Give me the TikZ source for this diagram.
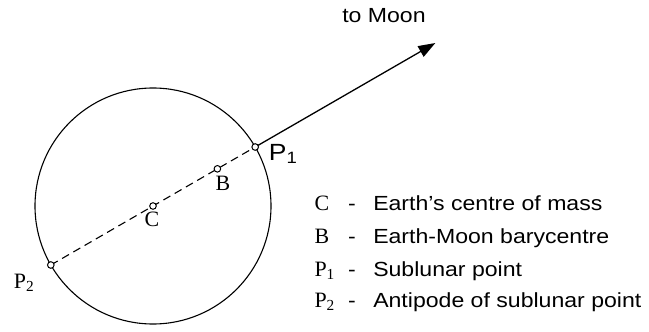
\documentclass[tikz,border=0pt]{standalone}
\usepackage{fontspec}
\setmainfont{Liberation Serif}
\newfontfamily\labelsans[FakeStretch=1.13]{Liberation Sans}
\usetikzlibrary{calc, arrows.meta}

\begin{document}
\begin{tikzpicture}[x=1bp, y=1bp, line width=1.1bp,
  dot/.style={draw, fill=white, line width=1bp},
  sans/.style={font=\labelsans\fontsize{20.5}{24}\selectfont, inner sep=0pt},
  bigsans/.style={font=\labelsans\fontsize{23.5}{28}\selectfont, inner sep=0pt},
  serif/.style={font=\fontsize{22}{26}\selectfont, inner sep=0pt}]
  \useasboundingbox (0,0) rectangle (649,331);
  \coordinate (C) at (153,125);
  % P1 and P2 lie on the Earth's outline, B between C and P1
  \coordinate (P1) at ($(C)+(30:118)$);
  \coordinate (P2) at ($(C)+(210:118)$);
  \coordinate (B) at ($(C)!0.63!(P1)$);
  \coordinate (M) at ($(C)+(30:326)$);

  \draw (C) circle (118);
  \draw[dash pattern=on 8bp off 5bp] (P2) -- (P1);
  \draw[line width=1.3bp, -{Triangle[length=17bp, width=12bp]}] (P1) -- (M);

  \draw[dot] (C) circle (3.3);
  \draw[dot] (B) circle (3.3);
  \draw[dot] (P1) circle (3.3);
  \draw[dot] (P2) circle (3.3);

  \node[serif, anchor=base] (labC) at (152,104.3) {C};
  \node[serif, anchor=base] (labB) at (223,140.3) {B};
  \node[bigsans, anchor=base west] (labP1) at (268.3,171) {P\textsubscript{1}};
  \node[serif, anchor=base west] (labP2) at (13.3,42.7) {P\textsubscript{2}};
  \node[sans, anchor=base west] (moon) at (341.7,308.3) {to Moon};

  % legend
  \node[serif, anchor=base west] (symC) at (314,120.3) {C};
  \node[sans, anchor=base] (dashC) at (352,120.3) {-};
  \node[sans, anchor=base west] (txtC) at (372.7,120.3) {Earth’s centre of mass};
  \node[serif, anchor=base west] (symB) at (314,87.7) {B};
  \node[sans, anchor=base] (dashB) at (352,87.7) {-};
  \node[sans, anchor=base west] (txtB) at (372.7,87.7) {Earth-Moon barycentre};
  \node[serif, anchor=base west] (symP1) at (314,54.3) {P\textsubscript{1}};
  \node[sans, anchor=base] (dashP1) at (352,54.3) {-};
  \node[sans, anchor=base west] (txtP1) at (372.7,54.3) {Sublunar point};
  \node[serif, anchor=base west] (symP2) at (314,23.7) {P\textsubscript{2}};
  \node[sans, anchor=base] (dashP2) at (352,23.7) {-};
  \node[sans, anchor=base west] (txtP2) at (372.7,23.7) {Antipode of sublunar point};
\end{tikzpicture}
\end{document}
